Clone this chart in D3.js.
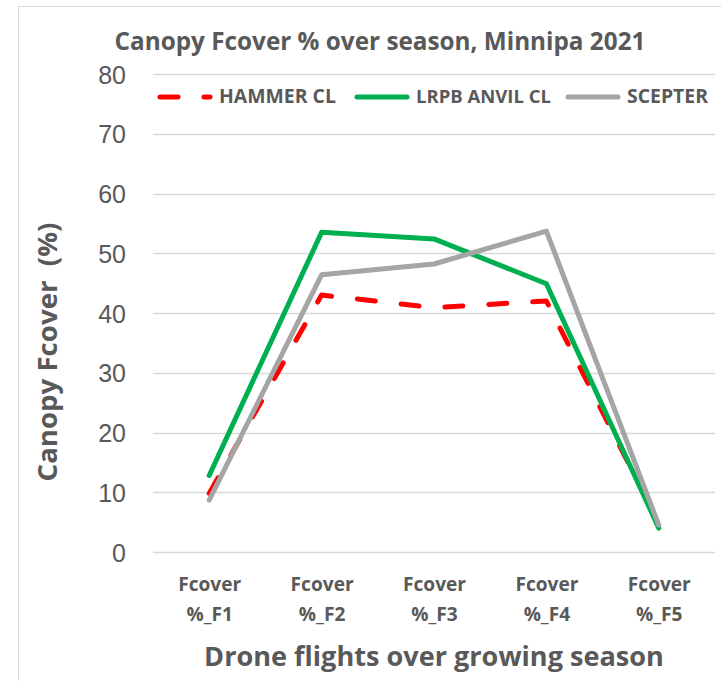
<!DOCTYPE html>
<html>
<head>
<meta charset="utf-8">
<script src="https://cdn.jsdelivr.net/npm/d3@7"></script>
<style>
  html, body { margin: 0; padding: 0; background: #fff; }
  svg { display: block; font-family: "Open Sans", Lato, "Liberation Sans", sans-serif; }
</style>
</head>
<body>
<svg id="chart" width="721" height="681"></svg>
<script>
// ---- data ----
const categories = ["Fcover %_F1", "Fcover %_F2", "Fcover %_F3", "Fcover %_F4", "Fcover %_F5"];
const seriesNames = ["HAMMER CL", "LRPB ANVIL CL", "SCEPTER"];
const hammerValues = [9.8, 43.0, 40.9, 42.0, 4.8];
const anvilValues  = [12.8, 53.5, 52.4, 44.9, 4.0];
const scepterValues = [8.7, 46.4, 48.2, 53.7, 4.5];
const yTicks = [0, 10, 20, 30, 40, 50, 60, 70, 80];
const titleText = "Canopy Fcover % over season, Minnipa 2021";
const yTitle = "Canopy Fcover  (%)";
const xTitle = "Drone flights over growing season";

const series = [
  { name: seriesNames[0], values: hammerValues, color: "#FF0000", dash: "18,26" },
  { name: seriesNames[1], values: anvilValues, color: "#00B050", dash: null },
  { name: seriesNames[2], values: scepterValues, color: "#A5A5A5", dash: null }
];

const svg = d3.select("#chart");
const textColor = "#595959";
const boldFont = "'Open Sans', Lato, 'Liberation Sans', sans-serif";

// scale a text's font size so that its width matches a target
function fit(sel, target) {
  sel.each(function() {
    const fs = parseFloat(d3.select(this).attr("font-size"));
    const w = this.getComputedTextLength();
    if (w > 0) d3.select(this).attr("font-size", (fs * target / w).toFixed(2));
  });
}

// chart border (left & top visible)
svg.append("rect").attr("x", 18.5).attr("y", 6.5).attr("width", 900).attr("height", 900)
  .attr("fill", "#fff").attr("stroke", "#d9d9d9").attr("stroke-width", 1);

const plot = { left: 153, right: 715, top: 74, bottom: 552 };

const x = d3.scalePoint().domain(categories).range([plot.left, plot.right]).padding(0.5);
const y = d3.scaleLinear().domain([0, 80]).range([plot.bottom, plot.top]);

// gridlines
svg.append("g").selectAll("line").data(yTicks).join("line")
  .attr("x1", plot.left).attr("x2", plot.right)
  .attr("y1", d => Math.round(y(d)) + 0.5).attr("y2", d => Math.round(y(d)) + 0.5)
  .attr("stroke", "#d9d9d9").attr("stroke-width", 1.3);

// y axis labels
const yAxis = d3.axisLeft(y).tickValues(yTicks).tickSize(0).tickPadding(0);
const yg = svg.append("g").attr("transform", "translate(126,0)").call(yAxis);
yg.select(".domain").remove();
yg.selectAll("text").attr("fill", textColor).attr("font-size", 25)
  .attr("font-family", "'Liberation Sans', Arial, sans-serif").attr("dy", "0.36em");

// x axis labels (two lines)
const xAxis = d3.axisBottom(x).tickSize(0);
const xg = svg.append("g").attr("transform", `translate(0,${plot.bottom})`).call(xAxis);
xg.select(".domain").remove();
xg.selectAll(".tick text").remove();
xg.selectAll(".tick").each(function(d) {
  const parts = d.split(" ");
  const t = d3.select(this).append("text").attr("fill", textColor)
    .attr("font-family", boldFont)
    .attr("font-size", 19).attr("font-weight", "bold").attr("text-anchor", "middle");
  t.append("tspan").attr("x", 0).attr("y", 39).text(parts[0]);
  t.append("tspan").attr("x", 0).attr("y", 69).text(parts[1]);
  const w = t.select("tspan").node().getComputedTextLength();
  if (w > 0) t.attr("font-size", (19 * 63 / w).toFixed(2));
});

// lines
const line = d3.line().x((d, i) => x(categories[i])).y(d => y(d));
svg.append("g").selectAll("path").data(series).join("path")
  .attr("d", d => line(d.values))
  .attr("fill", "none").attr("stroke", d => d.color).attr("stroke-width", 5)
  .attr("stroke-linecap", "round").attr("stroke-linejoin", "round")
  .attr("stroke-dasharray", d => d.dash);

// title
svg.append("text").attr("x", 380).attr("y", 50).attr("text-anchor", "middle")
  .attr("fill", textColor).attr("font-size", 21).attr("font-weight", "bold").text(titleText)
  .call(fit, 531);

// y title
svg.append("text").attr("transform", "translate(57,352) rotate(-90)").attr("text-anchor", "middle")
  .attr("fill", textColor).attr("font-size", 25).attr("font-weight", "bold")
  .style("white-space", "pre").text(yTitle)
  .call(fit, 259);

// x title
svg.append("text").attr("x", 434).attr("y", 666).attr("text-anchor", "middle")
  .attr("fill", textColor).attr("font-size", 26).attr("font-weight", "bold").text(xTitle)
  .call(fit, 460);

// legend
const legendX = [157, 354, 565];
const legendW = [117, 135, 81];
const lg = svg.append("g").selectAll("g").data(series).join("g")
  .attr("transform", (d, i) => `translate(${legendX[i]},97)`);
lg.append("line").attr("x1", 3).attr("x2", 53).attr("y1", 0).attr("y2", 0)
  .attr("stroke", d => d.color).attr("stroke-width", 5).attr("stroke-linecap", "round")
  .attr("stroke-dasharray", d => d.dash);
lg.append("text").attr("x", 62).attr("y", 6).attr("fill", textColor)
  .attr("font-size", 16).attr("font-weight", "bold").text(d => d.name)
  .each(function(d, i) { d3.select(this).call(fit, legendW[i]); });
</script>
</body>
</html>
